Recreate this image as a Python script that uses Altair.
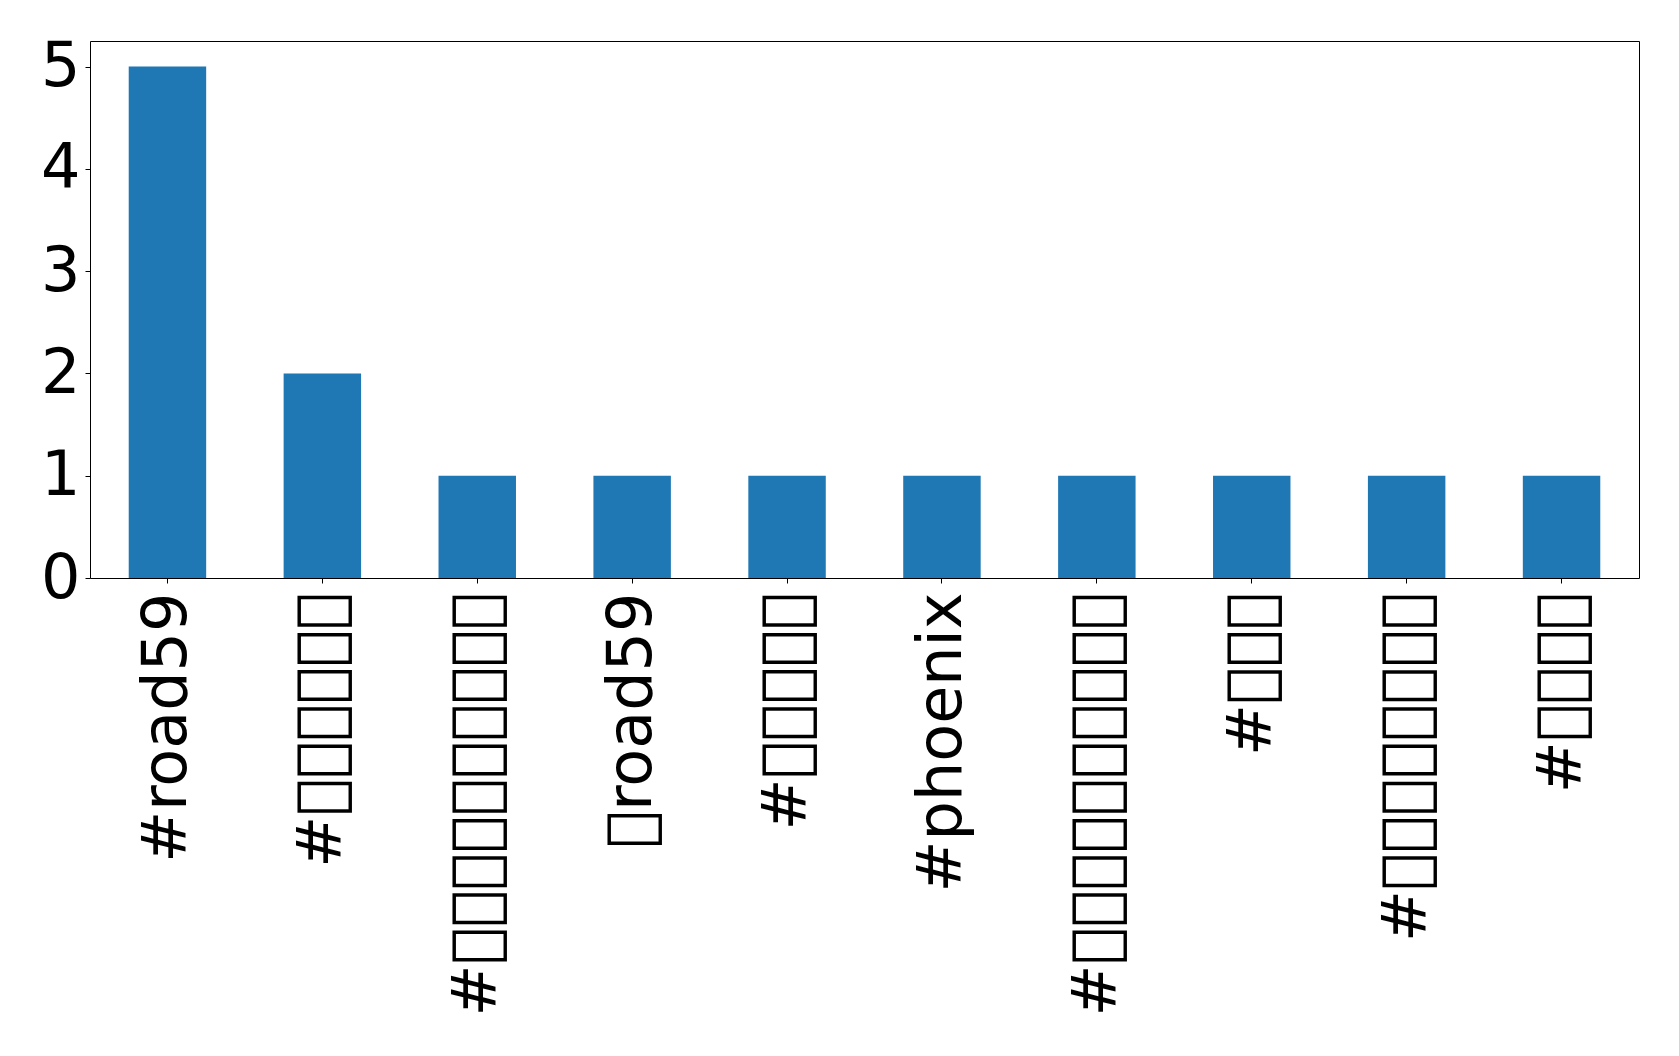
import altair as alt
import pandas as pd


def unknown(label_no, n):
    # glyphs that no installed font has -> drawn as boxes, as in the reference;
    # each label gets its own code points so that no two labels are merged
    return "".join(chr(0xE000 + label_no * 16 + j) for j in range(n))


categories = [
    "#road59",
    "#" + unknown(1, 6),
    "#" + unknown(2, 10),
    unknown(3, 1) + "road59",
    "#" + unknown(4, 5),
    "#phoenix",
    "#" + unknown(6, 10),
    "#" + unknown(7, 3),
    "#" + unknown(8, 8),
    "#" + unknown(9, 4),
]
counts = [5, 2, 1, 1, 1, 1, 1, 1, 1, 1]
y_ticks = [0, 1, 2, 3, 4, 5]

df = pd.DataFrame({"tag": categories, "count": counts})

FONT = "DejaVu Sans"
FS = 62

x_scale = alt.Scale(paddingInner=0.5, paddingOuter=0.25)
y_scale = alt.Scale(domain=[0, 5.25], nice=False, zero=True)

base = alt.Chart(df)

bars = base.mark_bar(color="#1f77b4").encode(
    x=alt.X(
        "tag:N",
        sort=categories,
        scale=x_scale,
        axis=alt.Axis(
            title=None,
            labelAngle=270,
            labelAlign="right",
            labelBaseline="middle",
            labelFont=FONT,
            labelFontSize=FS,
            labelColor="black",
            labelPadding=9,
            labelLimit=0,
            tickColor="black",
            tickSize=5,
            domain=True,
            domainColor="black",
            domainWidth=1,
            grid=False,
        ),
    ),
    y=alt.Y(
        "count:Q",
        scale=y_scale,
        axis=alt.Axis(
            title=None,
            values=y_ticks,
            format="d",
            labelFont=FONT,
            labelFontSize=FS,
            labelColor="black",
            labelPadding=5,
            labelBaseline="middle",
            tickColor="black",
            tickSize=5,
            domain=True,
            domainColor="black",
            domainWidth=1,
            grid=False,
        ),
    ),
)

# top and right edges of the frame, drawn as bare axis lines
frame = base.mark_bar(opacity=0).encode(
    x=alt.X(
        "tag:N",
        sort=categories,
        scale=x_scale,
        axis=alt.Axis(
            orient="top",
            title=None,
            labels=False,
            ticks=False,
            grid=False,
            domain=True,
            domainColor="black",
            domainWidth=1,
        ),
    ),
    y=alt.Y(
        "count:Q",
        scale=y_scale,
        axis=alt.Axis(
            orient="right",
            title=None,
            labels=False,
            ticks=False,
            grid=False,
            domain=True,
            domainColor="black",
            domainWidth=1,
        ),
    ),
)

chart = (
    alt.layer(bars, frame)
    .resolve_axis(x="independent", y="independent")
    .properties(
        width=1549,
        height=537,
        autosize=alt.AutoSizeParams(type="none"),
        padding={"left": 82, "top": 33, "right": 30, "bottom": 460},
    )
    .configure_view(strokeWidth=0)
    .configure(background="white")
)

chart.save("out.html", embed_options={"renderer": "svg", "actions": False})
